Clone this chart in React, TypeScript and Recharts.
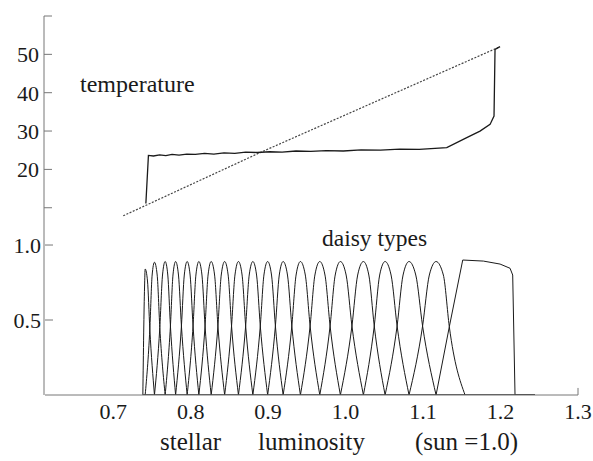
import React from 'react';
import { ComposedChart, Line, XAxis, YAxis, Customized, ReferenceLine } from 'recharts';

// ---- tick values ----
const luminosityTicks = [0.7, 0.8, 0.9, 1.0, 1.1, 1.2, 1.3];
const temperatureTicks = [10, 20, 30, 40, 50, 60];
const daisyTicks = [0.5, 1.0];

// ---- temperature: bare planet (dotted) ----
const bareL = [0.713, 0.892, 1.1994];
const bareT = [7.9, 24.6, 52.0];

// ---- temperature: with daisies (solid) ----
const daisyWorldL = [0.7422, 0.7455, 0.752, 0.76, 0.768, 0.776, 0.785, 0.795, 0.806, 0.818, 0.83, 0.843, 0.857, 0.871, 0.886, 0.902, 0.918, 0.936, 0.955, 0.975, 0.997, 1.02, 1.045, 1.07, 1.095, 1.1306, 1.1564, 1.1735, 1.1865, 1.1916, 1.1929, 1.1994];
const daisyWorldT = [11.1, 23.65, 23.5, 23.8, 23.6, 23.9, 23.7, 24.0, 23.9, 24.2, 24.0, 24.3, 24.2, 24.5, 24.4, 24.6, 24.5, 24.8, 24.7, 24.9, 24.8, 25.1, 25.0, 25.3, 25.2, 25.66, 28.27, 29.99, 31.73, 33.9, 51.3, 52.0];

// ---- daisy types (narrow bumps) ----
const daisyStartL = [0.7383, 0.7413, 0.7533, 0.7671, 0.7806, 0.7955, 0.8106, 0.8265, 0.8439, 0.8617, 0.8803, 0.8994, 0.9194, 0.9417, 0.9667, 0.9933, 1.023, 1.051, 1.0819];
const daisyLeftShoulderL = [0.7405, 0.7503, 0.7637, 0.7772, 0.7918, 0.8068, 0.8225, 0.8395, 0.8572, 0.8756, 0.8946, 0.9144, 0.9361, 0.9604, 0.9866, 1.0156, 1.044, 1.0742, 1.1081];
const daisyPeakL = [0.7413, 0.7533, 0.7671, 0.7806, 0.7955, 0.8106, 0.8265, 0.8439, 0.8617, 0.8803, 0.8994, 0.9194, 0.9417, 0.9667, 0.9933, 1.023, 1.051, 1.0819, 1.1168];
const daisyRightShoulderL = [0.7443, 0.7568, 0.7705, 0.7843, 0.7993, 0.8146, 0.8309, 0.8484, 0.8664, 0.8851, 0.9044, 0.925, 0.948, 0.9734, 1.0007, 1.03, 1.0587, 1.0906, 1.1262];
const daisyEndL = [0.7533, 0.7671, 0.7806, 0.7955, 0.8106, 0.8265, 0.8439, 0.8617, 0.8803, 0.8994, 0.9194, 0.9417, 0.9667, 0.9933, 1.023, 1.051, 1.0819, 1.1168, 1.1542];
const daisyPeakV = [0.84, 0.885, 0.89, 0.89, 0.89, 0.89, 0.89, 0.89, 0.89, 0.89, 0.89, 0.89, 0.89, 0.89, 0.89, 0.89, 0.89, 0.89, 0.89];
const daisyLeftShoulderV = [0.72, 0.8, 0.8, 0.8, 0.8, 0.8, 0.8, 0.8, 0.8, 0.8, 0.8, 0.8, 0.8, 0.8, 0.8, 0.8, 0.8, 0.8, 0.8];
const daisyRightShoulderV = [0.76, 0.8, 0.8, 0.8, 0.8, 0.8, 0.8, 0.8, 0.8, 0.8, 0.8, 0.8, 0.8, 0.8, 0.8, 0.8, 0.8, 0.8, 0.8];
// crossings between neighbouring daisy types
const crossL = [0.7473, 0.7602, 0.7739, 0.7881, 0.8031, 0.8186, 0.8352, 0.8528, 0.871, 0.8899, 0.9094, 0.9306, 0.9542, 0.98, 1.0082, 1.037, 1.0665, 1.0994, 1.1339];
const crossV = [0.44, 0.45, 0.46, 0.46, 0.46, 0.46, 0.46, 0.46, 0.46, 0.46, 0.46, 0.46, 0.46, 0.46, 0.46, 0.46, 0.46, 0.46, 0.455];

// ---- last (broad) daisy type ----
const lastDaisyL = [1.1168, 1.1339, 1.1512, 1.1778, 1.1994, 1.2123, 1.2157, 1.2187, 1.2445];
const lastDaisyV = [0, 0.455, 0.9, 0.893, 0.873, 0.845, 0.8, 0, 0];

// zero population level
const zeroL = [0.7383, 1.2445];
const zeroV = [0, 0];

const zip = (xs: number[], ys: number[]) => xs.map((L, i) => ({ L, v: ys[i] }));

const bareData = zip(bareL, bareT);
const daisyWorldData = zip(daisyWorldL, daisyWorldT);
const narrowDaisies = daisyPeakL.map((p, i) => {
  const pts: { L: number; v: number }[] = [];
  pts.push({ L: daisyStartL[i], v: 0 });
  if (i > 0) pts.push({ L: crossL[i - 1], v: crossV[i - 1] });
  pts.push({ L: daisyLeftShoulderL[i], v: daisyLeftShoulderV[i] });
  pts.push({ L: p, v: daisyPeakV[i] });
  pts.push({ L: daisyRightShoulderL[i], v: daisyRightShoulderV[i] });
  pts.push({ L: crossL[i], v: crossV[i] });
  pts.push({ L: daisyEndL[i], v: 0 });
  return pts;
});
const lastDaisyData = zip(lastDaisyL, lastDaisyV);
const zeroData = zip(zeroL, zeroV);

const FONT = 'Liberation Serif';
const INK = '#1a1a1a';
const AXIS = '#777';
const tickStyle = { fontFamily: FONT, fontSize: 22, fill: INK };

const Annotations = () => (
  <g fill={INK}>
    <text x={80} y={92} fontSize={24} fontFamily={FONT}>temperature</text>
    <text x={322} y={246} fontSize={23.5} fontFamily={FONT}>daisy types</text>
    <text x={160} y={450} fontSize={25} fontFamily={FONT}>stellar</text>
    <text x={258} y={450} fontSize={25} fontFamily={FONT}>luminosity</text>
    <text x={415} y={450} fontSize={25} fontFamily={FONT}>(sun =1.0)</text>
  </g>
);

export default function App() {
  return (
    <div style={{ position: 'absolute', left: 0, top: 0, background: '#fff' }}>
      <ComposedChart width={593} height={461} margin={{ top: 16, right: 15, bottom: 0, left: 43 }}>
        <XAxis
          xAxisId="x"
          type="number"
          dataKey="L"
          domain={[0.612, 1.3]}
          allowDataOverflow
          ticks={luminosityTicks}
          tickFormatter={(v: number) => v.toFixed(1)}
          tickLine={false}
          tickSize={0}
          tickMargin={8}
          height={66}
          axisLine={{ stroke: AXIS, strokeWidth: 1 }}
          tick={tickStyle}
        />
        <YAxis
          yAxisId="t"
          type="number"
          domain={[-38.83, 60]}
          allowDataOverflow
          ticks={temperatureTicks}
          tickFormatter={(v: number) => (v === 10 || v === 60 ? '' : String(v))}
          width={1}
          tickSize={-8}
          tickMargin={13}
          axisLine={{ stroke: AXIS, strokeWidth: 1 }}
          tickLine={{ stroke: AXIS }}
          tick={tickStyle}
        />
        <YAxis
          yAxisId="d"
          type="number"
          domain={[0, 2.527]}
          allowDataOverflow
          ticks={daisyTicks}
          tickFormatter={(v: number) => v.toFixed(1)}
          width={1}
          tickSize={-8}
          tickMargin={12}
          axisLine={false}
          tickLine={{ stroke: AXIS }}
          tick={tickStyle}
        />
        <ReferenceLine
          xAxisId="x"
          yAxisId="d"
          segment={[{ x: 1.3, y: 0 }, { x: 1.3, y: 0.047 }]}
          stroke={AXIS}
          strokeWidth={1}
        />
        <Line xAxisId="x" yAxisId="t" data={bareData} dataKey="v" type="linear" stroke="#444" strokeWidth={1.2} strokeDasharray="2 1.5" dot={false} isAnimationActive={false} />
        <Line xAxisId="x" yAxisId="t" data={daisyWorldData} dataKey="v" type="linear" stroke={INK} strokeWidth={1.3} dot={false} isAnimationActive={false} />
        <Line xAxisId="x" yAxisId="d" data={zeroData} dataKey="v" type="linear" stroke={INK} strokeWidth={1.3} dot={false} isAnimationActive={false} />
        {narrowDaisies.map((d, i) => (
          <Line key={i} xAxisId="x" yAxisId="d" data={d} dataKey="v" type="monotone" stroke={INK} strokeWidth={1} dot={false} isAnimationActive={false} />
        ))}
        <Line xAxisId="x" yAxisId="d" data={lastDaisyData} dataKey="v" type="linear" stroke={INK} strokeWidth={1} dot={false} isAnimationActive={false} />
        <Customized component={Annotations} />
      </ComposedChart>
    </div>
  );
}
